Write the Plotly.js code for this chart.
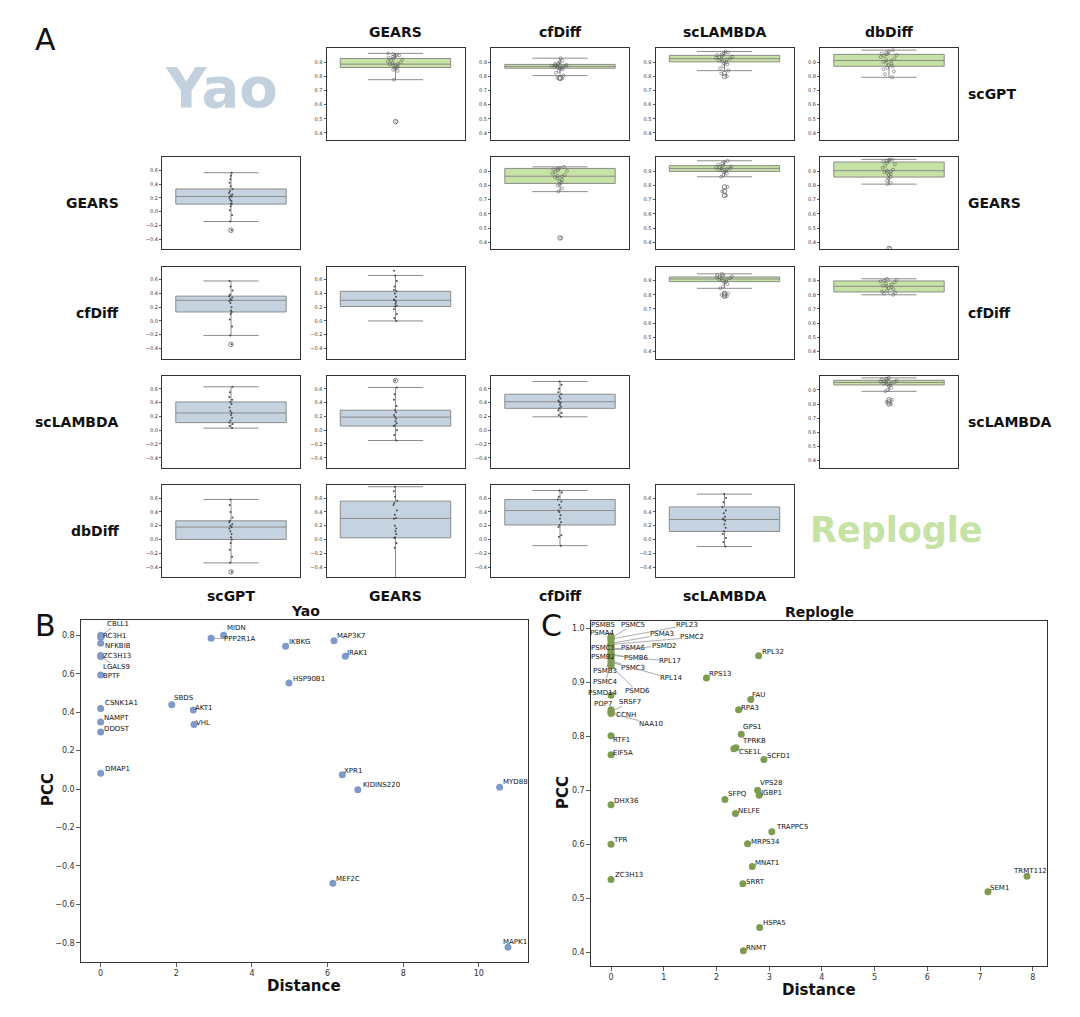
<!DOCTYPE html>
<html><head><meta charset="utf-8">
<script src="https://cdn.plot.ly/plotly-3.0.1.min.js"></script>
<style>html,body{margin:0;padding:0;background:#fff}#chart{width:1080px;height:1017px}</style>
</head><body><div id="chart"></div>
<script>
// ---------------- DATA ----------------
const methods = ['scGPT','GEARS','cfDiff','scLAMBDA','dbDiff'];
// panel positions in the pairwise grid (first 10 = Replogle, last 10 = Yao)
const panelRow = [0,0,0,0,1,1,1,2,2,3, 1,2,2,3,3,3,4,4,4,4];
const panelCol = [1,2,3,4,2,3,4,3,4,4, 0,0,1,0,1,2,0,1,2,3];
const q1Vals     = [0.862,0.857,0.902,0.871,0.815,0.900,0.860,0.893,0.820,0.935, 0.11,0.13,0.21,0.11,0.06,0.317,0.00,0.024,0.21,0.116];
const medianVals = [0.886,0.870,0.925,0.912,0.866,0.921,0.905,0.912,0.860,0.953, 0.22,0.30,0.30,0.25,0.19,0.413,0.18,0.305,0.42,0.29];
const q3Vals     = [0.926,0.884,0.948,0.955,0.921,0.941,0.966,0.926,0.898,0.968, 0.33,0.36,0.43,0.41,0.29,0.522,0.27,0.556,0.58,0.472];
const lowVals    = [0.776,0.805,0.840,0.793,0.757,0.862,0.810,0.846,0.800,0.890, -0.143,-0.21,0.00,0.03,-0.15,0.194,-0.34,-0.75,-0.09,-0.103];
const highVals   = [0.962,0.928,0.975,0.985,0.932,0.975,0.985,0.948,0.913,0.985, 0.566,0.58,0.66,0.63,0.62,0.707,0.58,0.765,0.71,0.658];
const outlierVals = [[0.48],[0.79,0.785],[0.82,0.80],[],[0.43],[0.79,0.76,0.73],[0.355],[0.81,0.80,0.79],[],[0.83,0.815,0.80],
  [-0.27],[-0.34],[],[],[0.72],[],[-0.47],[],[],[]];
const stripVals = [
  [0.962,0.957,0.951,0.948,0.944,0.939,0.93,0.927,0.918,0.912,0.905,0.898,0.893,0.887,0.884,0.879,0.872,0.868,0.862,0.855,0.846,0.838,0.776,0.48],
  [0.928,0.91,0.9,0.892,0.887,0.884,0.881,0.878,0.875,0.872,0.87,0.868,0.865,0.862,0.858,0.855,0.848,0.838,0.825,0.805,0.79,0.785],
  [0.975,0.968,0.962,0.955,0.95,0.946,0.94,0.935,0.93,0.926,0.922,0.918,0.912,0.906,0.9,0.893,0.885,0.872,0.856,0.84,0.82,0.80],
  [0.985,0.975,0.968,0.962,0.956,0.95,0.944,0.936,0.925,0.915,0.91,0.902,0.895,0.888,0.878,0.871,0.86,0.85,0.835,0.815,0.793],
  [0.932,0.925,0.92,0.915,0.91,0.905,0.895,0.885,0.875,0.868,0.865,0.86,0.85,0.84,0.83,0.82,0.81,0.8,0.78,0.757,0.43],
  [0.975,0.965,0.955,0.948,0.94,0.935,0.93,0.926,0.922,0.92,0.917,0.912,0.907,0.902,0.895,0.885,0.875,0.862,0.79,0.76,0.73],
  [0.985,0.982,0.978,0.975,0.97,0.962,0.95,0.94,0.925,0.912,0.906,0.9,0.896,0.89,0.883,0.875,0.862,0.85,0.835,0.82,0.81,0.355],
  [0.948,0.94,0.935,0.93,0.926,0.922,0.918,0.914,0.91,0.906,0.9,0.895,0.888,0.875,0.86,0.846,0.81,0.80,0.79],
  [0.913,0.905,0.9,0.895,0.888,0.88,0.872,0.865,0.86,0.855,0.848,0.84,0.83,0.822,0.815,0.808,0.80],
  [0.985,0.98,0.975,0.97,0.966,0.962,0.958,0.955,0.952,0.948,0.944,0.94,0.935,0.928,0.915,0.9,0.89,0.83,0.815,0.80],
  [0.566,0.52,0.47,0.42,0.37,0.33,0.3,0.27,0.25,0.23,0.22,0.2,0.17,0.15,0.12,0.11,0.08,0.02,-0.05,-0.143,-0.27],
  [0.58,0.5,0.44,0.38,0.36,0.34,0.32,0.3,0.29,0.26,0.2,0.15,0.13,0.1,0.02,-0.08,-0.21,-0.34],
  [0.73,0.66,0.58,0.5,0.45,0.43,0.4,0.35,0.31,0.3,0.28,0.25,0.22,0.21,0.17,0.1,0.04,0.0],
  [0.63,0.55,0.48,0.44,0.41,0.38,0.33,0.28,0.25,0.22,0.18,0.14,0.11,0.09,0.06,0.03],
  [0.72,0.62,0.52,0.44,0.35,0.29,0.26,0.22,0.19,0.17,0.13,0.1,0.07,0.06,0.0,-0.07,-0.15],
  [0.707,0.66,0.6,0.55,0.52,0.49,0.46,0.43,0.41,0.4,0.37,0.34,0.32,0.29,0.25,0.22,0.194],
  [0.58,0.5,0.4,0.32,0.27,0.25,0.22,0.2,0.18,0.16,0.12,0.08,0.03,0.0,-0.05,-0.15,-0.25,-0.34,-0.47],
  [0.765,0.7,0.62,0.56,0.53,0.5,0.42,0.36,0.31,0.3,0.2,0.16,0.12,0.08,0.03,0.02,-0.05,-0.12,-0.75],
  [0.71,0.68,0.62,0.58,0.55,0.5,0.46,0.42,0.4,0.35,0.3,0.25,0.21,0.18,0.06,0.04,-0.09],
  [0.658,0.6,0.54,0.47,0.42,0.38,0.33,0.3,0.29,0.27,0.22,0.17,0.12,0.08,0.02,-0.04,-0.103]
];
const greenTicks = [0.4,0.5,0.6,0.7,0.8,0.9];
const blueTicks  = [-0.4,-0.2,0.0,0.2,0.4,0.6];

// Panel B (Yao)
const genesB = ['CBLL1','RC3H1','NFKBIB','ZC3H13','LGALS9','BPTF','CSNK1A1','NAMPT','DDOST','DMAP1','SBDS','AKT1','VHL','PPP2R1A','MIDN','IKBKG','HSP90B1','MAP3K7','IRAK1','XPR1','KIDINS220','MYD88','MEF2C','MAPK1'];
const distB  = [0,0,0,0,0,0,0,0,0,0,1.88,2.45,2.47,2.92,3.25,4.89,4.98,6.17,6.47,6.39,6.80,10.55,6.14,10.77];
const pccB   = [0.80,0.79,0.759,0.695,0.69,0.594,0.42,0.349,0.297,0.082,0.439,0.412,0.336,0.785,0.80,0.743,0.552,0.772,0.691,0.075,-0.003,0.009,-0.49,-0.823];
const ticksBx = [0,2,4,6,8,10];
const ticksBy = [-0.8,-0.6,-0.4,-0.2,0.0,0.2,0.4,0.6,0.8];

// Panel C (Replogle)
const genesC = ['PSMB5','PSMC5','RPL23','PSMA4','PSMA3','PSMC2','PSMC1','PSMA6','PSMD2','PSMB2','PSMB6','RPL17','PSMB3','PSMC3','RPL14','PSMC4','PSMD6','PSMD14','POP7','SRSF7','CCNH','NAA10','RTF1','EIF5A',
  'RPS13','RPL32','FAU','RPA3','GPS1','TPRKB','CSE1L','SCFD1','VPS28','IGBP1','SFPQ','DHX36','NELFE','TRAPPC5','TPR','MRPS34','MNAT1','ZC3H13','SRRT','SEM1','TRMT112','HSPA5','RNMT'];
const distC = [0,0,0,0,0,0,0,0,0,0,0,0,0,0,0,0,0,0,0,0,0,0,0,0,
  1.81,2.80,2.65,2.42,2.47,2.37,2.33,2.90,2.78,2.81,2.16,0,2.36,3.05,0,2.59,2.68,0,2.50,7.15,7.89,2.82,2.51];
const pccC = [0.985,0.982,0.98,0.977,0.972,0.97,0.965,0.962,0.96,0.955,0.952,0.95,0.945,0.94,0.937,0.933,0.93,0.876,0.849,0.846,0.844,0.842,0.801,0.766,
  0.908,0.949,0.868,0.849,0.804,0.779,0.777,0.757,0.70,0.691,0.683,0.673,0.657,0.623,0.60,0.601,0.559,0.535,0.527,0.512,0.541,0.446,0.403];
const ticksCx = [0,1,2,3,4,5,6,7,8];
const ticksCy = [0.4,0.5,0.6,0.7,0.8,0.9,1.0];

// ---------------- STYLE / PLACEMENT ----------------
// label placement: ['A',dx,dy] = text centre offset with leader line; ['L',dx,dy] = left edge offset, no line
const placeB = [['A',17,-11],['L',2,-1],['L',4,3],['L',2,0],['A',16,10],['L',2,1],['L',4,-5],['L',3,-4],['L',3,-3],['L',4,-4],
  ['L',2,-7],['L',2,-2],['L',2,-2],['A',28,1],['L',3,-7],['L',3,-4],['L',4,-4],['L',3,-5],['L',2,-3],['L',2,-4],['L',5,-5],['L',3,-5],['L',3,-4],['L',-5,-5]];
const placeC = [['A',-8,-11],['A',22,-13],['A',76,-14],['A',-9,-8],['A',51,-9],['A',81,-7],['A',-8,1],['A',22,-1],['A',53,-4],['A',-8,4],
  ['A',25,4],['A',59,6],['A',-6,13],['A',22,7],['A',60,16],['A',-6,18],['A',26,25],['A',-8,-2],['A',-8,-6],['A',19,-9],['A',15,2],['A',40,10],['L',2,4],['L',2,-2],
  ['L',3,-4],['L',3,-4],['L',1,-5],['L',2,-2],['L',2,-7],['L',6,-7],['L',5,3],['L',3,-4],['L',2,-7],['L',2,-2],['L',3,-5],['L',3,-4],['L',3,-3],['L',4,-5],
  ['L',2,-4],['L',3,-2],['L',3,-3],['L',4,-4],['L',3,-2],['L',2,-4],['L',-14,-5],['L',3,-4],['L',3,-3]];

const W=1080,H=1017;
const PX=x=>x/W, PY=y=>1-y/H;
const colLeft=[162,326.5,491,655.5,820], rowTop=[48,157.25,266.5,375.75,485], PW=138, PH=92;
const greenFill='#c6e2a4', blueFill='#c5d3e0', edge='#8c8c8c';
const FONT='DejaVu Sans';

const layout={width:W,height:H,margin:{l:0,r:0,t:0,b:0},paper_bgcolor:'#fff',plot_bgcolor:'#fff',
  showlegend:false,boxmode:'overlay',font:{family:FONT,color:'#222'},annotations:[]};
const traces=[];

for(let i=0;i<20;i++){
  const n=i+1, sx=(n===1?'':n), xa='xaxis'+sx, ya='yaxis'+sx, xr='x'+sx, yr='y'+sx;
  const r=panelRow[i], c=panelCol[i], isG=i<10;
  layout[xa]={domain:[PX(colLeft[c]),PX(colLeft[c]+PW)],anchor:yr,range:[-0.5,0.5],showticklabels:false,ticks:'',
    showgrid:false,zeroline:false,showline:true,mirror:true,linecolor:'#333',linewidth:1,fixedrange:true};
  layout[ya]={domain:[PY(rowTop[r]+PH),PY(rowTop[r])],anchor:xr,range:isG?[0.35,1.0]:[-0.545,0.79],
    tickvals:isG?greenTicks:blueTicks,tickformat:'.1f',ticks:'outside',ticklen:2,tickwidth:0.8,tickcolor:'#333',
    tickfont:{size:5,color:'#333',family:FONT},showgrid:false,zeroline:false,showline:true,mirror:true,linecolor:'#333',linewidth:1};
  traces.push({type:'box',xaxis:xr,yaxis:yr,x:[0],q1:[q1Vals[i]],median:[medianVals[i]],q3:[q3Vals[i]],
    lowerfence:[lowVals[i]],upperfence:[highVals[i]],width:0.8,whiskerwidth:0.5,fillcolor:isG?greenFill:blueFill,
    line:{color:edge,width:1},boxpoints:false,hoverinfo:'skip'});
  traces.push({type:'box',xaxis:xr,yaxis:yr,x0:0,y:stripVals[i],width:0.8,boxpoints:'all',pointpos:0,jitter:isG?0.16:0.04,
    fillcolor:'rgba(0,0,0,0)',line:{color:'rgba(0,0,0,0)',width:0},
    marker:isG?{size:3,symbol:'circle-open',color:'rgba(80,80,80,0.85)',line:{width:0.6,color:'rgba(80,80,80,0.85)'}}
              :{size:2,symbol:'circle',color:'rgba(60,60,60,0.9)'},hoverinfo:'skip'});
  if(outlierVals[i].length){
    traces.push({type:'scatter',mode:'markers',xaxis:xr,yaxis:yr,x:outlierVals[i].map(()=>0),y:outlierVals[i],
      marker:{symbol:'circle-open',size:4.5,color:'#666',line:{width:0.8,color:'#666'}},hoverinfo:'skip'});
  }
}

// Panel B and C axes
const axB={showgrid:false,zeroline:false,showline:true,mirror:true,linecolor:'#333',linewidth:1.2,ticks:'outside',ticklen:3.5,
  tickwidth:0.8,tickcolor:'#333',tickfont:{size:8,color:'#333',family:FONT}};
layout.xaxis21=Object.assign({},axB,{domain:[PX(81),PX(528)],anchor:'y21',range:[-0.52,11.3],tickvals:ticksBx});
layout.yaxis21=Object.assign({},axB,{domain:[PY(962),PY(620)],anchor:'x21',range:[-0.90,0.88],tickvals:ticksBy,tickformat:'.1f'});
layout.xaxis22=Object.assign({},axB,{domain:[PX(591),PX(1047)],anchor:'y22',range:[-0.38,8.27],tickvals:ticksCx});
layout.yaxis22=Object.assign({},axB,{domain:[PY(966),PY(621)],anchor:'x22',range:[0.3746,1.0135],tickvals:ticksCy,tickformat:'.1f'});

traces.push({type:'scatter',mode:'markers',xaxis:'x21',yaxis:'y21',x:distB,y:pccB,marker:{size:7,color:'#7f99c9'},hoverinfo:'skip'});
traces.push({type:'scatter',mode:'markers',xaxis:'x22',yaxis:'y22',x:distC,y:pccC,marker:{size:7,color:'#7f9b50'},hoverinfo:'skip'});

function labelAnn(name,x,y,spec,xr,yr){
  const f={size:7,color:'#111',family:FONT};
  if(spec[0]==='A') return {x,y,xref:xr,yref:yr,text:name,showarrow:true,arrowhead:0,arrowwidth:0.7,arrowcolor:'#888',
    ax:spec[1],ay:spec[2],standoff:2,font:f,borderpad:0,borderwidth:0,xanchor:'center',yanchor:'middle'};
  return {x,y,xref:xr,yref:yr,text:name,showarrow:false,xanchor:'left',yanchor:'middle',xshift:spec[1],yshift:-spec[2],font:f,borderpad:0,borderwidth:0};
}
genesB.forEach((g,k)=>layout.annotations.push(labelAnn(g,distB[k],pccB[k],placeB[k],'x21','y21')));
genesC.forEach((g,k)=>layout.annotations.push(labelAnn(g,distC[k],pccC[k],placeC[k],'x22','y22')));

// Text annotations (paper coordinates, explicitly centred)
function txt(t,x,y,opts){return Object.assign({text:t,x:PX(x),y:PY(y),xref:'paper',yref:'paper',showarrow:false,
  xanchor:'center',yanchor:'middle',font:{family:FONT,size:14,color:'#111',weight:'bold'}},opts||{});}
const colCenter=c=>colLeft[c]+PW/2, rowCenter=r=>rowTop[r]+PH/2;
for(let c=1;c<5;c++) layout.annotations.push(txt(methods[c],colCenter(c),32));
for(let c=0;c<4;c++) layout.annotations.push(txt(methods[c],colCenter(c),596));
for(let r=1;r<5;r++) layout.annotations.push(txt(methods[r],121,rowCenter(r),{xanchor:'right'}));
for(let r=0;r<4;r++) layout.annotations.push(txt(methods[r],966,rowCenter(r),{xanchor:'left'}));
layout.annotations.push(txt('Yao',221,88,{font:{family:FONT,size:56,color:'#c3d1de',weight:'bold'}}));
layout.annotations.push(txt('Replogle',896,530,{font:{family:FONT,size:35,color:'#c6e2a4',weight:'bold'}}));
layout.annotations.push(txt('A',45,40,{font:{family:FONT,size:30,color:'#111'}}));
layout.annotations.push(txt('B',45,625,{font:{family:FONT,size:30,color:'#111'}}));
layout.annotations.push(txt('C',551,625,{font:{family:FONT,size:30,color:'#111'}}));
layout.annotations.push(txt('Yao',305,611));
layout.annotations.push(txt('Replogle',819,612));
layout.annotations.push(txt('PCC',48,790,{textangle:-90,font:{family:FONT,size:15,color:'#111',weight:'bold'}}));
layout.annotations.push(txt('Distance',304,986,{font:{family:FONT,size:15,color:'#111',weight:'bold'}}));
layout.annotations.push(txt('PCC',563,793,{textangle:-90,font:{family:FONT,size:15,color:'#111',weight:'bold'}}));
layout.annotations.push(txt('Distance',819,990,{font:{family:FONT,size:15,color:'#111',weight:'bold'}}));

Plotly.newPlot('chart',traces,layout,{staticPlot:true});
</script></body></html>
